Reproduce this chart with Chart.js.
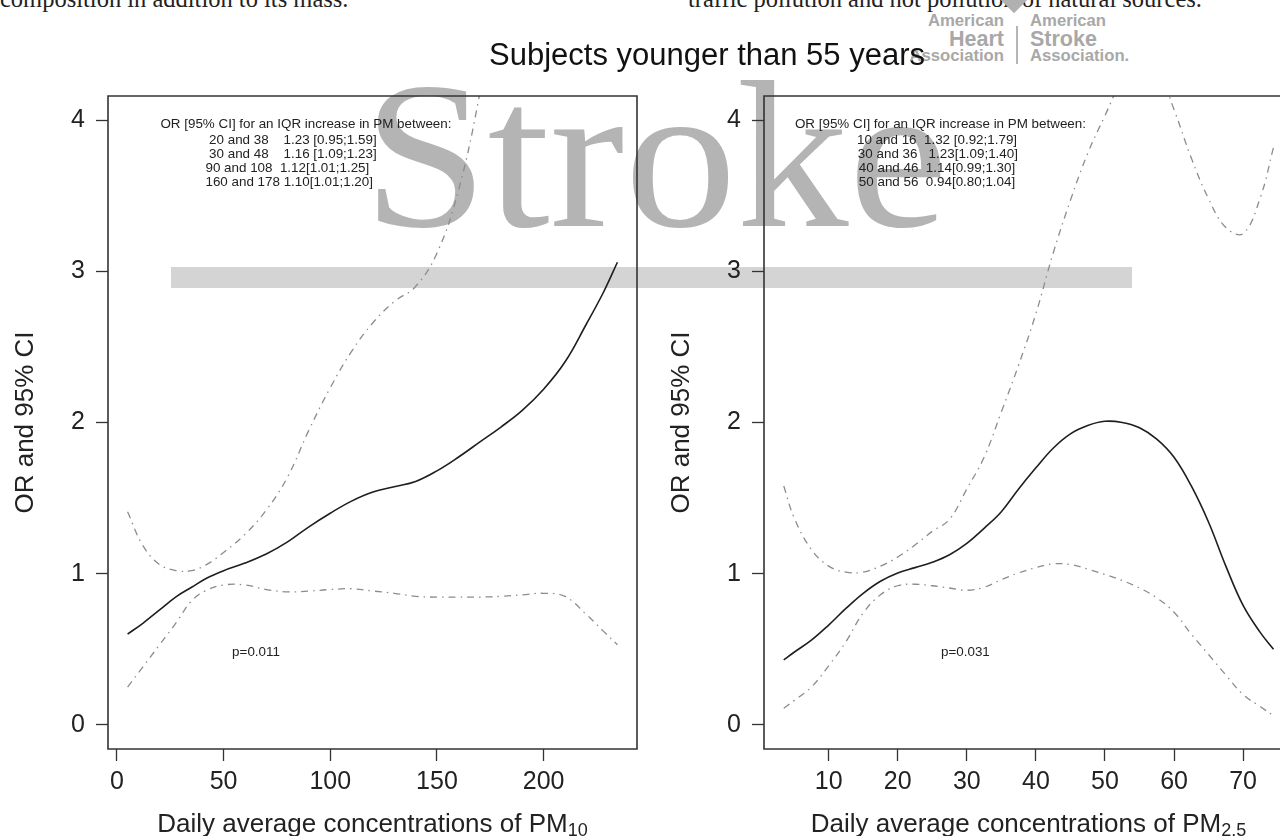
<!DOCTYPE html>
<html>
<head>
<meta charset="utf-8">
<script src="https://cdn.jsdelivr.net/npm/chart.js@4.4.1/dist/chart.umd.min.js"></script>
<style>
  html, body { margin: 0; padding: 0; background: #fff; overflow: hidden; }
  body { position: relative; width: 1280px; height: 836px; font-family: "Liberation Sans", Arial, Helvetica, sans-serif; }
  .abs { position: absolute; white-space: pre; line-height: 1; }
  .serif { font-family: "Liberation Serif", "Times New Roman", serif; font-size: 24.5px; color: #222; top: -13.5px; }
  .aha { position: absolute; white-space: nowrap; line-height: 1; font-weight: bold; color: #a8a8a8; }
  .aha.l { right: 276px; text-align: right; }
  .aha.r { left: 1030px; }
  .small { font-size: 16.7px; }
  .big { font-size: 21.5px; }
  #wmBar { position: absolute; left: 171px; top: 267px; width: 961px; height: 21px; background: #d4d4d4; }
  #wm { position: absolute; left: 363px; top: 50px; font-family: "Liberation Serif", "Times New Roman", serif; font-size: 210px;
        line-height: 1; color: #b4b4b4; transform: scaleX(1.067); transform-origin: 0 0; }
  #ahaTip { position: absolute; left: 1004px; top: -11px; width: 20px; height: 20px; background: #b0b0b0; transform: rotate(45deg); }
  #ahaBar { position: absolute; left: 1016px; top: 26px; width: 1.5px; height: 38px; background: #b5b5b5; }
  canvas { position: absolute; top: 0; z-index: 1; }
  #pm10 { left: 0; }
  #pm25 { left: 640px; }
  #mainTitle { position: absolute; left: 489px; top: 38.8px; font-size: 31px; line-height: 1; color: #111; white-space: nowrap; z-index: 2; }
</style>
</head>
<body>
<div class="abs serif" style="left:0">composition in addition to its mass.</div>
<div class="abs serif" style="left:688px">traffic pollution and not pollution of natural sources.</div>

<div id="ahaTip"></div>
<div id="ahaBar"></div>
<div class="aha l small" style="top:13px">American</div>
<div class="aha l big" style="top:28.8px">Heart</div>
<div class="aha l small" style="top:47.9px">Association</div>
<div class="aha r small" style="top:13px">American</div>
<div class="aha r big" style="top:28.8px">Stroke</div>
<div class="aha r small" style="top:47.9px">Association.</div>

<div id="wmBar"></div>
<div id="wm">Stroke</div>

<canvas id="pm10" width="640" height="836"></canvas>
<canvas id="pm25" width="640" height="836"></canvas>
<div id="mainTitle">Subjects younger than 55 years</div>

<script>
// left panel: PM10
const pm10Conc  = [5, 12, 20, 28, 35, 42, 50, 60, 70, 80, 90, 100, 110, 120, 130, 140, 150, 160, 170, 180, 190, 200, 210, 220, 228, 234.6];
const pm10Or    = [0.60, 0.67, 0.76, 0.85, 0.91, 0.97, 1.02, 1.07, 1.13, 1.21, 1.31, 1.40, 1.48, 1.54, 1.575, 1.61, 1.68, 1.77, 1.87, 1.97, 2.08, 2.22, 2.40, 2.65, 2.86, 3.06];
const pm10Lower = [0.25, 0.38, 0.53, 0.68, 0.82, 0.89, 0.925, 0.925, 0.895, 0.88, 0.885, 0.895, 0.90, 0.885, 0.87, 0.85, 0.845, 0.845, 0.845, 0.85, 0.86, 0.87, 0.85, 0.73, 0.62, 0.53];
const pm10Upper = [1.41, 1.19, 1.06, 1.02, 1.02, 1.06, 1.14, 1.26, 1.42, 1.64, 1.95, 2.23, 2.47, 2.66, 2.80, 2.90, 3.12, 3.53, 4.17, 5.0, null, null, null, null, null, null];
const pm10Ticks = [0, 50, 100, 150, 200];
const pm10Notes = ['OR [95% CI] for an IQR increase in PM between:',
                   '20 and 38    1.23 [0.95;1.59]',
                   '30 and 48    1.16 [1.09;1.23]',
                   '90 and 108  1.12[1.01;1.25]',
                   '160 and 178 1.10[1.01;1.20]'];

// right panel: PM2.5
const pm25Conc  = [3.5, 5, 7.5, 10, 12.5, 15, 17.5, 20, 22.5, 25, 27.5, 30, 32.5, 35, 37.5, 40, 42.5, 45, 47.5, 50, 52.5, 55, 57.5, 60, 62.5, 65, 67.5, 70, 72.5, 74.4];
const pm25Or    = [0.43, 0.48, 0.56, 0.66, 0.77, 0.87, 0.95, 1.005, 1.04, 1.075, 1.125, 1.20, 1.30, 1.41, 1.56, 1.70, 1.83, 1.925, 1.98, 2.008, 2.0, 1.965, 1.89, 1.77, 1.58, 1.34, 1.05, 0.79, 0.61, 0.50];
const pm25Lower = [0.11, 0.16, 0.25, 0.39, 0.55, 0.74, 0.86, 0.92, 0.93, 0.92, 0.905, 0.89, 0.91, 0.96, 1.005, 1.04, 1.065, 1.06, 1.03, 0.995, 0.955, 0.905, 0.84, 0.745, 0.60, 0.465, 0.33, 0.20, 0.12, 0.06];
const pm25Upper = [1.58, 1.37, 1.16, 1.05, 1.01, 1.01, 1.05, 1.11, 1.19, 1.28, 1.36, 1.56, 1.77, 2.07, 2.38, 2.72, 3.12, 3.47, 3.78, 4.03, 4.27, 4.42, 4.35, 4.07, 3.75, 3.48, 3.29, 3.25, 3.49, 3.82];
const pm25Ticks = [10, 20, 30, 40, 50, 60, 70];
const pm25Notes = ['OR [95% CI] for an IQR increase in PM between:',
                   '10 and 16  1.32 [0.92;1.79]',
                   '30 and 36   1.23[1.09;1.40]',
                   '40 and 46  1.14[0.99;1.30]',
                   '50 and 56  0.94[0.80;1.04]'];

const orTicks = [0, 1, 2, 3, 4];

const FONT = '"Liberation Sans", Arial, Helvetica, sans-serif';

function pts(xs, ys) {
    return xs.map((v, i) => ({ x: v, y: ys[i] }));
}

// box, annotations and the x label with its subscript, like the R plot
const rPanel = {
    id: 'rPanel',
    afterDatasetsDraw(chart, args, o) {
        const ctx = chart.ctx, a = chart.chartArea;
        const x = chart.scales.x, y = chart.scales.y;
        ctx.save();
        ctx.strokeStyle = '#333';
        ctx.lineWidth = 1.6;
        ctx.beginPath();
        ctx.moveTo(a.right, a.top);
        ctx.lineTo(a.left, a.top);
        ctx.lineTo(a.left, a.bottom);
        ctx.lineTo(a.right, a.bottom);
        if (!o.openRight) ctx.closePath();
        ctx.stroke();

        ctx.fillStyle = '#222';
        ctx.font = '13.4px ' + FONT;
        ctx.textBaseline = 'alphabetic';
        ctx.textAlign = 'left';
        const y0 = y.getPixelForValue(o.noteY);
        o.notes.forEach((t, i) => {
            const yy = i === 0 ? y0 : y0 + 16.5 + (i - 1) * 14;
            ctx.fillText(t, x.getPixelForValue(o.noteX[i]), yy);
        });
        ctx.textAlign = 'center';
        ctx.fillText(o.pText, x.getPixelForValue(o.pX), y.getPixelForValue(o.pY));

        // axis title
        const cx = x.getPixelForValue(o.titleCenter);
        const base = a.bottom + 82.5;
        ctx.font = '26px ' + FONT;
        const w1 = ctx.measureText(o.xTitle).width;
        ctx.font = '18px ' + FONT;
        const w2 = ctx.measureText(o.xSub).width;
        const left = cx - (w1 + w2) / 2;
        ctx.textAlign = 'left';
        ctx.font = '26px ' + FONT;
        ctx.fillText(o.xTitle, left, base);
        ctx.font = '18px ' + FONT;
        ctx.fillText(o.xSub, left + w1, base + 4.8);
        ctx.restore();
    }
};

function makePanel(id, p) {
    const tickGrid = { drawOnChartArea: false, drawTicks: true, tickLength: 12, tickColor: '#333', tickWidth: 1.3 };
    const tickFont = { family: FONT, size: 25 };
    return new Chart(document.getElementById(id), {
        type: 'line',
        data: {
            datasets: [
                { label: 'OR', data: pts(p.xs, p.or), borderColor: '#1e1e1e', borderWidth: 1.6 },
                { label: 'lower', data: pts(p.xs, p.lo), borderColor: '#8c8c8c', borderWidth: 1.3, borderDash: [7, 5, 1.5, 5] },
                { label: 'upper', data: pts(p.xs, p.hi), borderColor: '#8c8c8c', borderWidth: 1.3, borderDash: [7, 5, 1.5, 5] }
            ]
        },
        options: {
            responsive: false,
            animation: false,
            devicePixelRatio: 1,
            layout: { padding: p.padding },
            elements: {
                point: { radius: 0 },
                line: { tension: 0.4, fill: false }
            },
            plugins: {
                legend: { display: false },
                tooltip: { enabled: false },
                rPanel: p.panel
            },
            scales: {
                x: {
                    type: 'linear',
                    min: p.xMin,
                    max: p.xMax,
                    afterBuildTicks: s => { s.ticks = p.xTicks.map(v => ({ value: v })); },
                    afterFit: s => { s.height = 87; },
                    grid: tickGrid,
                    border: { display: false },
                    ticks: { font: tickFont, color: '#222', padding: 6, maxRotation: 0, autoSkip: false }
                },
                y: {
                    min: -0.16,
                    max: 4.16,
                    afterBuildTicks: s => { s.ticks = orTicks.map(v => ({ value: v })); },
                    afterFit: s => { s.width = 108; },
                    grid: tickGrid,
                    border: { display: false },
                    ticks: { font: tickFont, color: '#222', padding: 11 },
                    title: { display: true, text: 'OR and 95% CI', font: { family: FONT, size: 26 }, color: '#222', padding: { top: 10, bottom: 0 } }
                }
            }
        },
        plugins: [rPanel]
    });
}

makePanel('pm10', {
    xs: pm10Conc, or: pm10Or, lo: pm10Lower, hi: pm10Upper,
    xMin: -4.18, xMax: 243.78, xTicks: pm10Ticks,
    padding: { top: 96, right: 3, bottom: 0, left: 0 },
    panel: {
        openRight: false,
        notes: pm10Notes, noteX: [20.4, 43.2, 43.2, 41.5, 41.5], noteY: 3.95,
        pText: 'p=0.011', pX: 65.2, pY: 0.455,
        xTitle: 'Daily average concentrations of PM', xSub: '10', titleCenter: 119.8
    }
});

makePanel('pm25', {
    xs: pm25Conc, or: pm25Or, lo: pm25Lower, hi: pm25Upper,
    xMin: 0.64, xMax: 75.34, xTicks: pm25Ticks,
    padding: { top: 96, right: 0, bottom: 0, left: 16 },
    panel: {
        openRight: true,
        notes: pm25Notes, noteX: [5.12, 14.1, 14.23, 14.37, 14.37], noteY: 3.95,
        pText: 'p=0.031', pX: 29.8, pY: 0.455,
        xTitle: 'Daily average concentrations of PM', xSub: '2.5', titleCenter: 38.92
    }
});
</script>
</body>
</html>
